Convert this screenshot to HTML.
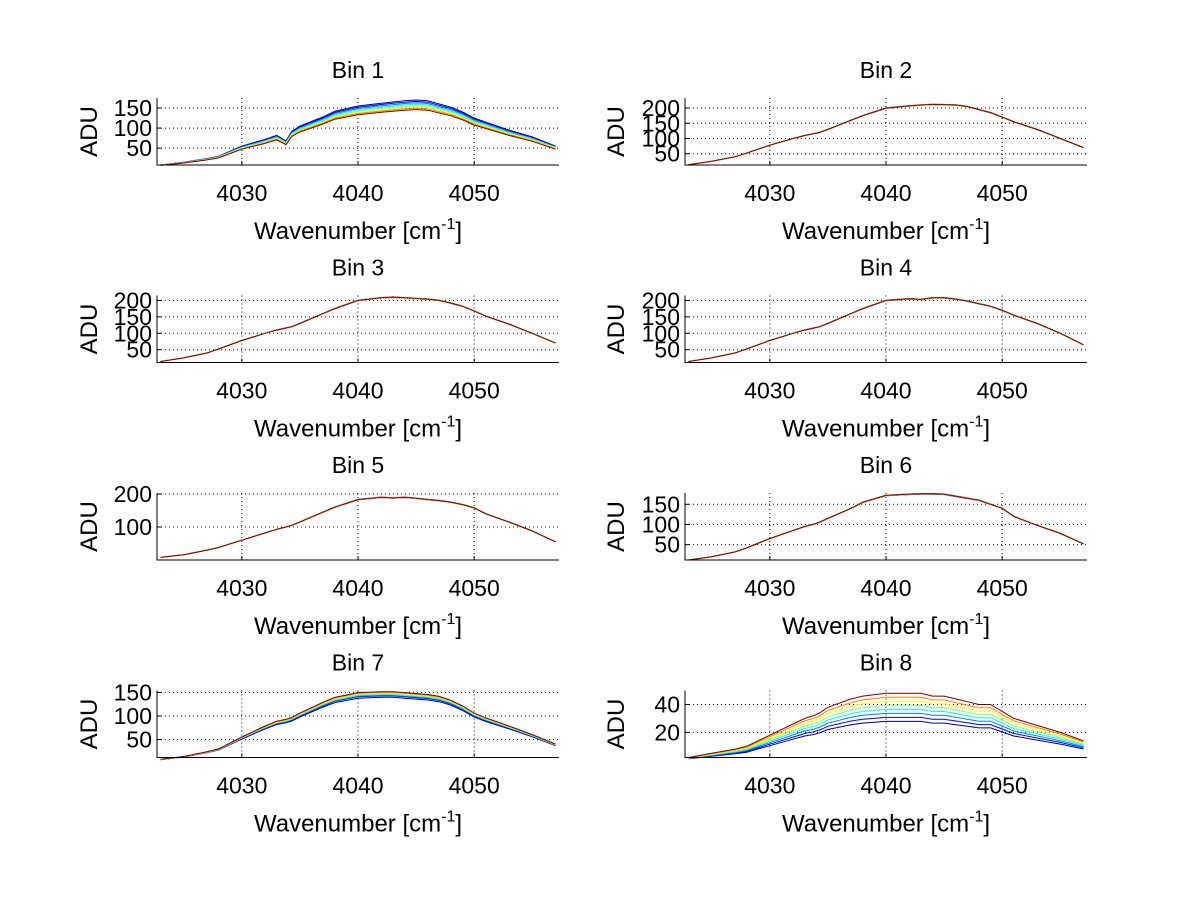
<!DOCTYPE html>
<html><head><meta charset="utf-8"><style>
html,body{margin:0;padding:0;background:#fff;}
svg{display:block;font-family:"Liberation Sans",sans-serif;}
</style></head><body>
<svg id="fig" width="1200" height="901" viewBox="0 0 1200 901"></svg>
<script>
const NS="http://www.w3.org/2000/svg";
const xs=[4023,4025,4027,4028,4030,4032,4033,4033.8,4034.3,4035,4037,4038,4040,4042,4043,4044,4045,4046,4047,4048,4049,4050,4051,4053,4055,4057];
const bin1Top=[8,15,24,30,55,72,82,68,92,105,128,142,155,162,165,168,170,168,160,152,140,125,115,95,78,55];
const bin2=[14,25,40,52,78,100,110,116,120,130,160,175,200,207,210,212,211,210,205,195,185,170,155,130,100,70];
const bin3=[14,25,40,52,78,100,110,116,120,130,160,175,200,208,210,208,206,204,200,192,182,168,152,128,100,70];
const bin4=[14,25,40,52,78,100,110,116,120,130,160,175,200,205,203,208,208,204,198,190,182,170,155,130,100,65];
const bin5=[8,16,30,38,60,82,93,100,105,115,145,160,183,190,188,190,187,183,180,175,168,158,140,115,88,55];
const bin6=[12,20,32,42,65,85,95,101,106,115,140,155,172,175,176,176,175,170,165,160,150,140,120,98,78,52];
const bin7=[8,14,24,30,55,78,88,92,96,105,128,138,148,150,150,148,146,144,140,132,120,105,95,78,60,40];
const bin8Top=[2,5,8,10,18,26,30,32,34,38,44,46,48,48,48,46,46,44,42,40,40,35,30,25,20,14];
const bin1Scales=[1,0.98,0.96,0.94,0.92,0.9,0.88,0.86];
const bin8Scales=[0.58,0.64,0.7,0.76,0.82,0.88,0.94,1];
const flatScales=[1,0.995,1.005,0.998,1.002,0.997,1.003,1];
const bin7Scales=[0.93,0.95,0.96,0.97,0.98,0.99,1,1.01];
const colors=["#00008f","#0000ff","#0080ff","#00ffff","#80ff80","#ffff00","#ff8000","#800000"];
const colorsRev=colors.slice().reverse();
const titles=["Bin 1","Bin 2","Bin 3","Bin 4","Bin 5","Bin 6","Bin 7","Bin 8"];
const yLims=[[8,175],[13,233],[11,215],[11,215],[0,203],[12,178],[12,154],[2,50]];
const yTicks=[[50,100,150],[50,100,150,200],[50,100,150,200],[50,100,150,200],[100,200],[50,100,150],[50,100,150],[20,40]];
const xTicks=[4030,4040,4050];
const profiles=[bin1Top,bin2,bin3,bin4,bin5,bin6,bin7,bin8Top];
const scaleSets=[bin1Scales,flatScales,flatScales,flatScales,flatScales,flatScales,bin7Scales,bin8Scales];
const colorSets=[colors,colors,colors,colors,colors,colors,colors,colors];
const xLim=[4022.7,4057.3];

const fig=document.getElementById('fig');
function mk(tag,attrs,parent){const e=document.createElementNS(NS,tag);for(const k in attrs)e.setAttribute(k,attrs[k]);(parent||fig).appendChild(e);return e;}

for(let i=0;i<8;i++){
  const col=i%2,row=Math.floor(i/2);
  const L=col?685:157,R=col?1087:559,T=98+row*197.5,B=165+row*197.5;
  const xS=v=>L+(v-xLim[0])/(xLim[1]-xLim[0])*(R-L);
  const yS=v=>B-(v-yLims[i][0])/(yLims[i][1]-yLims[i][0])*(B-T);
  const g=mk('g',{});
  
  
  xTicks.forEach(t=>{const l=mk('line',{x1:xS(t),x2:xS(t),y1:T,y2:B,stroke:'#000','stroke-width':1,'stroke-dasharray':'1,3'},g);
    });
  yTicks[i].forEach(t=>{const l=mk('line',{x1:L,x2:R,y1:yS(t),y2:yS(t),stroke:'#000','stroke-width':1,'stroke-dasharray':'1,3'},g);
    });
  const sc=scaleSets[i];
  sc.forEach((s,k)=>{
    const pts=xs.map((x,j)=>xS(x).toFixed(1)+','+yS(profiles[i][j]*s).toFixed(1)).join(' ');
    const p=mk('polyline',{points:pts,fill:'none',stroke:colorSets[i][k],'stroke-width':1},g);
    
    
  });
  const ax=mk('path',{d:`M${L},${T}V${B}H${R}`,stroke:'#000','stroke-width':1,fill:'none'},g);
  
  xTicks.forEach(t=>{
    mk('line',{x1:xS(t),x2:xS(t),y1:B,y2:B-4,stroke:'#000'},g);
    const tx=mk('text',{x:xS(t),y:B+36,'font-size':23,'text-anchor':'middle'},g);tx.textContent=t;
    
  });
  yTicks[i].forEach(t=>{
    mk('line',{x1:L,x2:L+4,y1:yS(t),y2:yS(t),stroke:'#000'},g);
    const tx=mk('text',{x:L-5,y:yS(t)+8,'font-size':23,'text-anchor':'end'},g);tx.textContent=t;
    
  });
  const ti=mk('text',{x:(L+R)/2,y:T-20,'font-size':23,'text-anchor':'middle'},g);ti.textContent=titles[i];
  
  const xl=mk('text',{x:(L+R)/2,y:B+74,'font-size':24,'text-anchor':'middle'},g);
  xl.innerHTML='Wavenumber [cm<tspan dy="-10" font-size="16">-1</tspan><tspan dy="10">]</tspan>';
  
  const cy=(T+B)/2;
  const yl=mk('text',{x:0,y:0,'font-size':24,'text-anchor':'middle',transform:`translate(${col?624:97},${cy}) rotate(-90)`},g);
  yl.textContent='ADU';
  
}
</script>
</body></html>
